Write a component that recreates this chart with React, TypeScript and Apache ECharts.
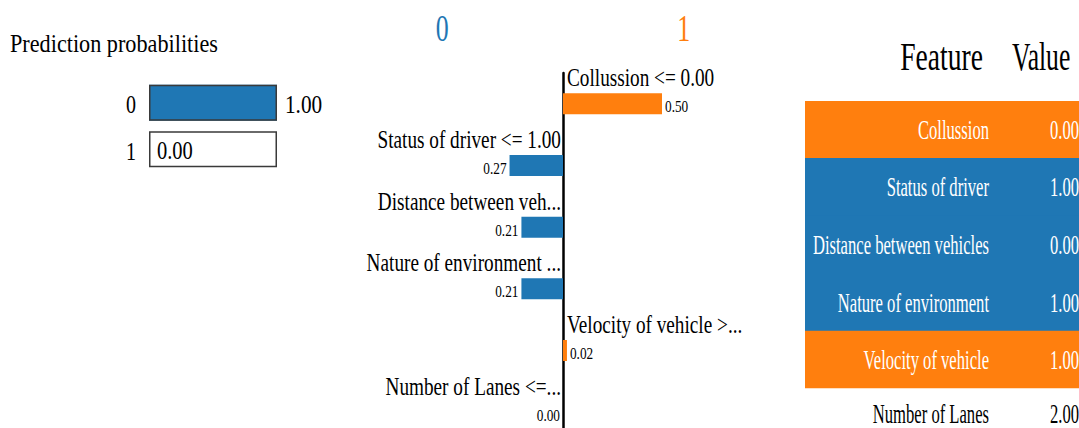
import { useEffect, useRef } from 'react';
import * as echarts from 'echarts';

const titleText = 'Prediction probabilities';
const classNames = ['0', '1'];
const classProbs = [1.0, 0.0];
const featureLabels = [
  'Collussion <= 0.00',
  'Status of driver <= 1.00',
  'Distance between veh...',
  'Nature of environment ...',
  'Velocity of vehicle >...',
  'Number of Lanes <=...',
];
const featureWeights = [0.5, -0.27, -0.21, -0.21, 0.02, 0.0];
const tableHeaders = ['Feature', 'Value'];
const tableFeatures = [
  'Collussion',
  'Status of driver',
  'Distance between vehicles',
  'Nature of environment',
  'Velocity of vehicle',
  'Number of Lanes',
];
const tableValues = [0, 1, 0, 1, 1, 2];

const BLUE = '#1f77b4';
const ORANGE = '#ff7f0e';
const SERIF = "'Liberation Serif', 'Times New Roman', serif";

const sideColor = (w: number) => (w > 0 ? ORANGE : w < 0 ? BLUE : '#ffffff');

const txt = (
  text: string,
  x: number,
  y: number,
  size: number,
  sx: number,
  align: string,
  fill = '#000'
) => ({
  type: 'text',
  x,
  y,
  z: 100,
  scaleX: sx,
  silent: true,
  style: {
    text,
    font: `${size}px ${SERIF}`,
    fontSize: size,
    fontFamily: SERIF,
    fill,
    align,
    verticalAlign: 'middle',
    textAlign: align,
    textVerticalAlign: 'middle',
  },
});

const hiddenValueAxis = (gridIndex: number, min: number, max: number) => ({
  gridIndex,
  type: 'value',
  min,
  max,
  axisLine: { show: false },
  axisTick: { show: false },
  axisLabel: { show: false },
  splitLine: { show: false },
});

export default function App() {
  const ref = useRef<HTMLDivElement>(null);
  useEffect(() => {
    if (!ref.current) return;
    const chart = echarts.init(ref.current, undefined, { renderer: 'svg' });
    const option: any = {
      animation: false,
      grid: [
        { left: 149, top: 79.5, width: 128, height: 93 },
        { left: 365, top: 73, width: 396, height: 370 },
        { left: 805, top: 101, width: 300, height: 345.6 },
      ],
      xAxis: [hiddenValueAxis(0, 0, 1), hiddenValueAxis(1, -1, 1), hiddenValueAxis(2, 0, 1)],
      yAxis: [
        { gridIndex: 0, type: 'category', data: classNames, inverse: true, show: false },
        {
          gridIndex: 1,
          type: 'category',
          data: featureLabels,
          inverse: true,
          axisLine: { show: true, onZero: true, lineStyle: { color: '#000', width: 2.5 } },
          axisTick: { show: false },
          axisLabel: { show: false },
          splitLine: { show: false },
        },
        { gridIndex: 2, type: 'category', data: tableFeatures, inverse: true, show: false },
      ],
      series: [
        {
          type: 'bar',
          xAxisIndex: 0,
          yAxisIndex: 0,
          data: classProbs,
          barWidth: 36,
          barGap: '-100%',
          itemStyle: { color: BLUE },
        },
        {
          type: 'bar',
          xAxisIndex: 0,
          yAxisIndex: 0,
          data: classProbs.map(() => 1),
          barWidth: 36,
          barGap: '-100%',
          itemStyle: { color: 'rgba(0,0,0,0)', borderColor: '#3a3a3a', borderWidth: 1.5 },
        },
        {
          type: 'bar',
          xAxisIndex: 1,
          yAxisIndex: 1,
          barWidth: 21,
          data: featureWeights.map((w) => ({ value: w, itemStyle: { color: sideColor(w) } })),
        },
        {
          type: 'bar',
          xAxisIndex: 2,
          yAxisIndex: 2,
          barWidth: 59,
          data: tableFeatures.map((_, i) => {
            const c = sideColor(featureWeights[i]);
            return { value: 1, itemStyle: { color: c } };
          }),
        },
      ],
    };
    chart.setOption(option);

    const px = (g: number, x: number, y: number) =>
      chart.convertToPixel({ gridIndex: g } as any, [x, y]) as number[];

    const g: any[] = [];
    g.push(txt(titleText, 10, 42.5, 26, 0.855, 'left'));

    classNames.forEach((c, i) => {
      const [x0, yc] = px(0, 0, i);
      const [x1] = px(0, 1, i);
      g.push(txt(c, x0 - 13, yc + 2, 25, 0.8, 'right'));
      const p = classProbs[i];
      if (p >= 0.5) g.push(txt(p.toFixed(2), x1 + 8, yc + 2, 25, 0.85, 'left'));
      else g.push(txt(p.toFixed(2), x0 + 8, yc + 2, 25, 0.82, 'left'));
    });

    const [h0x] = px(1, -0.61, 0);
    const [h1x] = px(1, 0.61, 0);
    g.push(txt(classNames[0], h0x, 29, 37, 0.7, 'center', BLUE));
    g.push(txt(classNames[1], h1x, 29, 37, 0.7, 'center', ORANGE));

    featureLabels.forEach((lab, i) => {
      const w = featureWeights[i];
      const [x0, yc] = px(1, 0, i);
      const [xe] = px(1, w, i);
      const val = Math.abs(w).toFixed(2);
      if (w > 0) {
        g.push(txt(lab, x0 + 4, yc - 26, 26, 0.74, 'left'));
        g.push(txt(val, xe + 3, yc + 3, 16, 0.83, 'left'));
      } else {
        g.push(txt(lab, x0 - 2, yc - 26, 26, 0.74, 'right'));
        g.push(txt(val, xe - 3, yc + 3, 16, 0.83, 'right'));
      }
    });

    const [tx0] = px(2, 0, 0);
    g.push(txt(tableHeaders[0], tx0 + 178, 56.5, 40, 0.69, 'right'));
    g.push(txt(tableHeaders[1], tx0 + 207, 56.5, 40, 0.64, 'left'));
    tableFeatures.forEach((f, i) => {
      const [xl, yc0] = px(2, 0, i);
      const yc = Math.min(yc0, 428 - 14);
      const fill = featureWeights[i] === 0 ? '#000' : '#fff';
      g.push(txt(f, xl + 184, yc, 27, 0.615, 'right', fill));
      g.push(txt(tableValues[i].toFixed(2), xl + 245, yc, 27, 0.615, 'left', fill));
    });

    chart.setOption({ graphic: g });
    return () => chart.dispose();
  }, []);
  return (
    <div
      style={{
        position: 'absolute',
        left: 0,
        top: 0,
        width: 1079,
        height: 428,
        overflow: 'hidden',
        background: '#fff',
      }}
    >
      <div ref={ref} style={{ width: 1120, height: 470 }} />
    </div>
  );
}
